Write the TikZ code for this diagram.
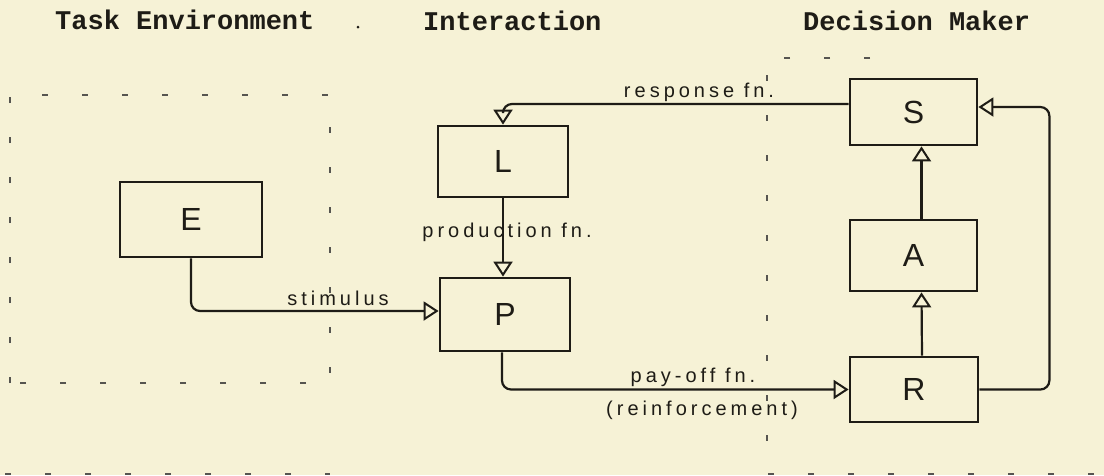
\documentclass[tikz,border=0pt]{standalone}
\usepackage{fontspec}
\setmainfont{Liberation Sans}
\newfontfamily\typew{Liberation Mono}
\newfontfamily\handf{Liberation Sans}[LetterSpace=20]
\usetikzlibrary{arrows.meta}
\definecolor{paper}{RGB}{246,242,214}
\definecolor{ink}{RGB}{30,28,22}
\begin{document}
\begin{tikzpicture}[x=1pt,y=-1pt,
  box/.style={draw=ink, line width=2.8pt, inner sep=0pt, text=ink,
    font=\fontsize{32}{32}\selectfont},
  conn/.style={draw=ink, line width=2.2pt, rounded corners=9pt,
    -{Triangle[open,length=15pt,width=19pt,line width=2pt]}},
  frame/.style={draw=ink!75, line width=1.8pt, dash pattern=on 6pt off 34pt},
  title/.style={font=\typew\bfseries\fontsize{27}{27}\selectfont, text=ink, anchor=base west, inner sep=0pt},
  lab/.style={font=\handf\fontsize{20}{20}\selectfont, text=ink, anchor=base, inner sep=0pt}]
\fill[paper] (0,0) rectangle (1104,475);
\useasboundingbox (0,0) rectangle (1104,475);

% titles
\node[title] (t1) at (55,29) {Task Environment};
\node[title] (t2) at (423,30) {Interaction};
\node[title] (t3) at (803,30) {Decision Maker};
\fill[ink] (358,27) circle (1.5);

% dashed frames
\draw[frame] (10,383) -- (10,95) -- (330,95) -- (330,383) -- cycle;
\draw[frame] (5,474) -- (330,474);
\draw[frame] (870,58) -- (767,58) -- (767,474) -- (1104,474);

% boxes
\node[box, minimum width=142pt, minimum height=75pt] (E) at (191,219.5) {E};
\node[box, minimum width=130pt, minimum height=71pt] (L) at (503,161.5) {L};
\node[box, minimum width=130pt, minimum height=73pt] (P) at (505,314.5) {P};
\node[box, minimum width=127pt, minimum height=66pt] (S) at (913.5,112) {S};
\node[box, minimum width=127pt, minimum height=71pt] (A) at (913.5,255.5) {A};
\node[box, minimum width=128pt, minimum height=65pt] (R) at (914,389.5) {R};

% connectors
\draw[conn] ([yshift=8pt]S.west) -| (L.north);
\draw[conn] (L.south) -- (L.south |- P.north);
\draw[conn] (E.south) |- ([yshift=3.5pt]P.west);
\draw[conn] ([xshift=-3pt]P.south) |- (R.west);
\draw[conn] ([xshift=8pt]A.north) -- ([xshift=8pt]S.south);
\draw[conn] ([xshift=8pt]R.north) -- ([xshift=8pt]A.south);
\draw[conn] (R.east) -- ++(70,0) |- ([yshift=5pt]S.east);

% labels
\node[lab] (lresp) at (699,97) {response fn.};
\node[lab] (lprod) at (507,237) {production fn.};
\node[lab] (lstim) at (338,305) {stimulus};
\node[lab] (lpay) at (693,382) {pay-off fn.};
\node[lab] (lrein) at (702,415) {(reinforcement)};
\end{tikzpicture}
\end{document}
